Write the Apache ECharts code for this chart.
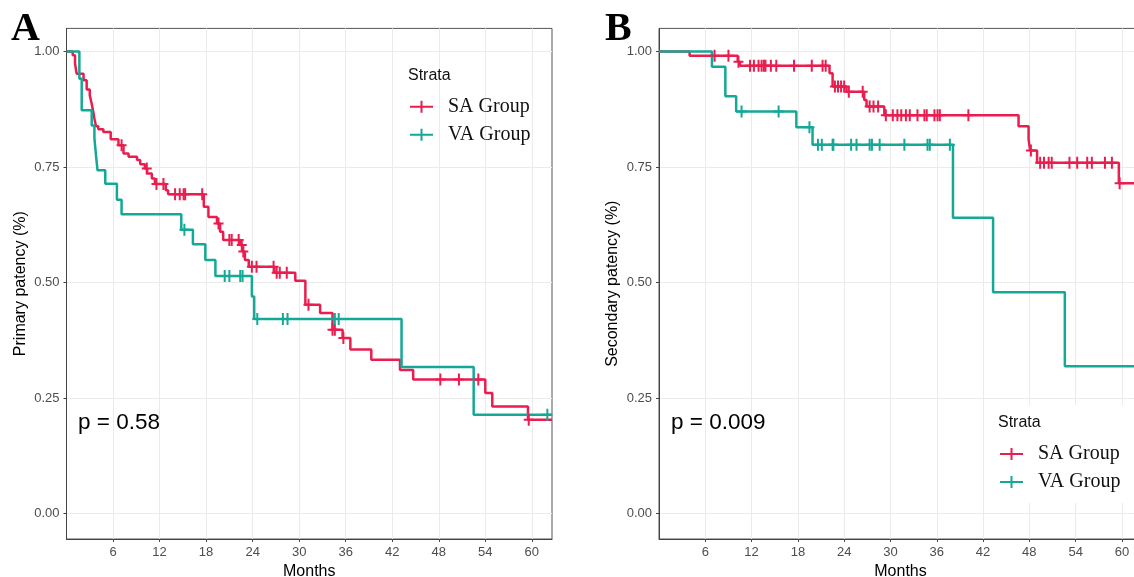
<!DOCTYPE html>
<html>
<head>
<meta charset="utf-8">
<script src="https://cdn.jsdelivr.net/npm/echarts@6/dist/echarts.min.js"></script>
<style>
  html, body { margin: 0; background: #fff; }
  #chart { width: 1134px; height: 577px; }
</style>
</head>
<body>
<div id="chart"></div>
<script>
// tick values
var monthTicks = [6, 12, 18, 24, 30, 36, 42, 48, 54, 60];
var survTicks = [0, 0.25, 0.5, 0.75, 1];
var lastFollowUp = 62.6;

// A: primary patency, SA group (event times / survival after each step / censor times)
var primSA_t = [0, 0.8, 1.1, 1.3, 2.2, 2.6, 3.0, 3.25, 3.45, 3.6, 3.8, 4.1, 4.75, 5.7, 6.7, 7.35, 8.0, 9.1, 9.5, 10.1, 10.4, 11.0, 11.4, 12.8, 13.1,
  17.7, 18.3, 19.4, 19.8, 20.2, 22.4, 22.7, 23.0, 23.5, 26.8, 29.5, 30.8, 32.7, 34.3, 35.6, 36.6, 39.3, 43.0, 44.7, 54.0, 54.9, 59.5];
var primSA_s = [1, 0.992, 0.974, 0.952, 0.938, 0.918, 0.905, 0.887, 0.869, 0.855, 0.838, 0.832, 0.826, 0.81, 0.797, 0.779, 0.772, 0.765, 0.756, 0.747, 0.736, 0.725, 0.713, 0.70, 0.691,
  0.664, 0.642, 0.628, 0.61, 0.592, 0.581, 0.567, 0.549, 0.534, 0.521, 0.504, 0.452, 0.434, 0.398, 0.38, 0.355, 0.333, 0.311, 0.29, 0.261, 0.232, 0.203];
var primSA_cens = [7.1, 10.35, 11.6, 12.5, 14.0, 14.6, 15.1, 15.3, 17.5, 19.6, 21.0, 21.3, 22.2, 22.6, 22.8, 23.9, 24.5, 26.7, 27.1, 27.5, 28.4,
  31.2, 34.3, 34.6, 35.7, 48.2, 50.6, 53.1, 59.6];

// A: primary patency, VA group
var primVA_t = [0, 1.66, 1.96, 3.25, 3.6, 3.8, 4.0, 5.0, 6.5, 7.1, 14.8, 16.3, 17.9, 19.2, 23.9, 24.2, 43.2, 52.5];
var primVA_s = [1, 0.941, 0.873, 0.84, 0.812, 0.776, 0.743, 0.714, 0.679, 0.648, 0.614, 0.583, 0.549, 0.514, 0.47, 0.421, 0.317, 0.214];
var primVA_cens = [15.2, 20.4, 21.0, 22.4, 22.7, 24.6, 27.9, 28.5, 34.6, 35.1, 62.0];

// B: secondary patency, SA group
var secSA_t = [0, 3.97, 10.2, 10.5, 22.1, 22.5, 24.3, 26.6, 26.9, 29.2, 46.6, 47.9, 48.1, 49.0, 59.6];
var secSA_s = [1, 0.991, 0.978, 0.969, 0.953, 0.924, 0.913, 0.895, 0.881, 0.862, 0.838, 0.81, 0.786, 0.759, 0.715];
var secSA_cens = [7.2, 9.0, 10.3, 11.8, 12.3, 12.9, 13.3, 13.6, 13.8, 14.5, 15.2, 17.5, 19.8, 21.2, 21.6, 22.8, 23.2, 23.6, 24.0, 24.6,
  26.4, 27.3, 27.8, 28.4, 29.4, 30.3, 30.9, 31.4, 32.0, 32.5, 33.5, 34.4, 34.7, 35.7, 36.1, 36.4, 40.1, 48.2,
  49.4, 49.9, 50.5, 50.9, 53.2, 54.2, 55.5, 56.1, 57.8, 58.7, 59.7];

// B: secondary patency, VA group
var secVA_t = [0, 6.86, 8.6, 10.0, 17.8, 19.9, 38.1, 43.3, 52.6];
var secVA_s = [1, 0.967, 0.903, 0.87, 0.836, 0.798, 0.64, 0.479, 0.319];
var secVA_cens = [10.7, 15.5, 19.5, 20.6, 21.1, 22.5, 22.6, 24.9, 25.6, 27.3, 27.6, 28.6, 31.8, 34.8, 35.1, 37.7];

var groups = ['SA Group', 'VA Group'];
var colors = ['#E91E4F', '#14A896'];

function curve(ts, ss) {
  var out = ts.map(function (t, i) { return [t, ss[i]]; });
  out.push([lastFollowUp, ss[ss.length - 1]]);
  return out;
}
function marks(ts, ss, cens) {
  return cens.map(function (c) {
    var s = ss[0];
    for (var i = 0; i < ts.length; i++) { if (ts[i] <= c) s = ss[i]; }
    return [c, s];
  });
}

var plusSymbol = 'path://M-1,-6 L1,-6 L1,-1 L5,-1 L5,1 L1,1 L1,6 L-1,6 L-1,1 L-5,1 L-5,-1 L-1,-1 Z';
var legendIcon = 'path://M0,5 L23,5 L23,7 L0,7 Z M10.5,0 L12.5,0 L12.5,12 L10.5,12 Z';

var sans = 'Liberation Sans, Arial, sans-serif';
var serif = 'Liberation Serif, Times New Roman, serif';

function xAx(idx) {
  return {
    type: 'value', gridIndex: idx, min: 0, max: lastFollowUp,
    name: 'Months', nameLocation: 'middle', nameGap: 23,
    nameTextStyle: { color: '#000', fontSize: 16, fontFamily: sans },
    axisLine: { onZero: false, lineStyle: { color: '#444', width: 1 } },
    axisTick: { show: true, length: 3, customValues: monthTicks, lineStyle: { color: '#444' } },
    axisLabel: { customValues: monthTicks, color: '#4d4d4d', fontSize: 13, fontFamily: sans, margin: 7 },
    splitLine: { show: true, lineStyle: { color: '#ebebeb', width: 1 } }
  };
}
function yAx(idx, title) {
  return {
    type: 'value', gridIndex: idx, min: -0.055, max: 1.05,
    name: title, nameLocation: 'middle', nameGap: 38,
    nameTextStyle: { color: '#000', fontSize: 16, fontFamily: sans },
    axisLine: { show: true, onZero: false, lineStyle: { color: '#444', width: 1 } },
    axisTick: { show: true, length: 3, customValues: survTicks, lineStyle: { color: '#444' } },
    axisLabel: {
      customValues: survTicks, color: '#4d4d4d', fontSize: 13, fontFamily: sans, margin: 7,
      formatter: function (v) { return v.toFixed(2); }
    },
    splitLine: { show: true, lineStyle: { color: '#ebebeb', width: 1 } }
  };
}

function stepSeries(name, color, idx, data) {
  return {
    name: name, type: 'line', step: 'end', xAxisIndex: idx, yAxisIndex: idx,
    data: data, showSymbol: false, symbol: 'none', color: color, z: 3,
    lineStyle: { color: color, width: 2.5 }, animation: false
  };
}
function censSeries(name, color, idx, data) {
  return {
    name: name, type: 'scatter', xAxisIndex: idx, yAxisIndex: idx,
    data: data, symbol: plusSymbol, symbolSize: [10, 12], color: color, z: 4,
    itemStyle: { color: color, opacity: 1 }, animation: false
  };
}

function legendAt(left, top) {
  return {
    orient: 'vertical', left: left, top: top, padding: 0, itemGap: 6,
    itemWidth: 23, itemHeight: 12, icon: legendIcon, data: groups, z: 10,
    selectedMode: false,
    textStyle: { fontFamily: serif, fontSize: 20, color: '#111', lineHeight: 22, padding: [0, 0, 0, 10] }
  };
}

var chart = echarts.init(document.getElementById('chart'), null, { renderer: 'canvas' });
chart.setOption({
  backgroundColor: '#fff',
  animation: false,
  grid: [
    { left: 66.5, right: 582, top: 28.4, bottom: 38, outerBoundsMode: 'none', containLabel: false,
      show: true, borderColor: '#555', borderWidth: 1, backgroundColor: 'transparent' },
    { left: 659, right: -8, top: 28.4, bottom: 38, outerBoundsMode: 'none', containLabel: false,
      show: true, borderColor: '#555', borderWidth: 1, backgroundColor: 'transparent' }
  ],
  xAxis: [xAx(0), xAx(1)],
  yAxis: [yAx(0, 'Primary patency (%)'), yAx(1, 'Secondary patency (%)')],
  legend: [legendAt(410, 95.7), legendAt(1000, 443)],
  graphic: [
    { type: 'rect', shape: { x: 988, y: 405, width: 150, height: 98 }, style: { fill: '#fff' }, z: 1, silent: true },
    { type: 'text', x: 11, y: 30, z: 20, style: { text: 'A', font: 'bold 40px ' + serif, fill: '#000', verticalAlign: 'middle' } },
    { type: 'text', x: 605, y: 30, z: 20, style: { text: 'B', font: 'bold 40px ' + serif, fill: '#000', verticalAlign: 'middle' } },
    { type: 'text', x: 408, y: 76, z: 20, style: { text: 'Strata', font: '16px ' + sans, fill: '#111', verticalAlign: 'middle' } },
    { type: 'text', x: 998, y: 423, z: 20, style: { text: 'Strata', font: '16px ' + sans, fill: '#111', verticalAlign: 'middle' } },
    { type: 'text', x: 78, y: 423, z: 20, style: { text: 'p = 0.58', font: '22.5px ' + sans, fill: '#000', verticalAlign: 'middle' } },
    { type: 'text', x: 671, y: 423, z: 20, style: { text: 'p = 0.009', font: '22.5px ' + sans, fill: '#000', verticalAlign: 'middle' } }
  ],
  series: [
    stepSeries(groups[0], colors[0], 0, curve(primSA_t, primSA_s)),
    stepSeries(groups[1], colors[1], 0, curve(primVA_t, primVA_s)),
    censSeries(groups[0], colors[0], 0, marks(primSA_t, primSA_s, primSA_cens)),
    censSeries(groups[1], colors[1], 0, marks(primVA_t, primVA_s, primVA_cens)),
    stepSeries(groups[0], colors[0], 1, curve(secSA_t, secSA_s)),
    stepSeries(groups[1], colors[1], 1, curve(secVA_t, secVA_s)),
    censSeries(groups[0], colors[0], 1, marks(secSA_t, secSA_s, secSA_cens)),
    censSeries(groups[1], colors[1], 1, marks(secVA_t, secVA_s, secVA_cens))
  ]
});
</script>
</body>
</html>
